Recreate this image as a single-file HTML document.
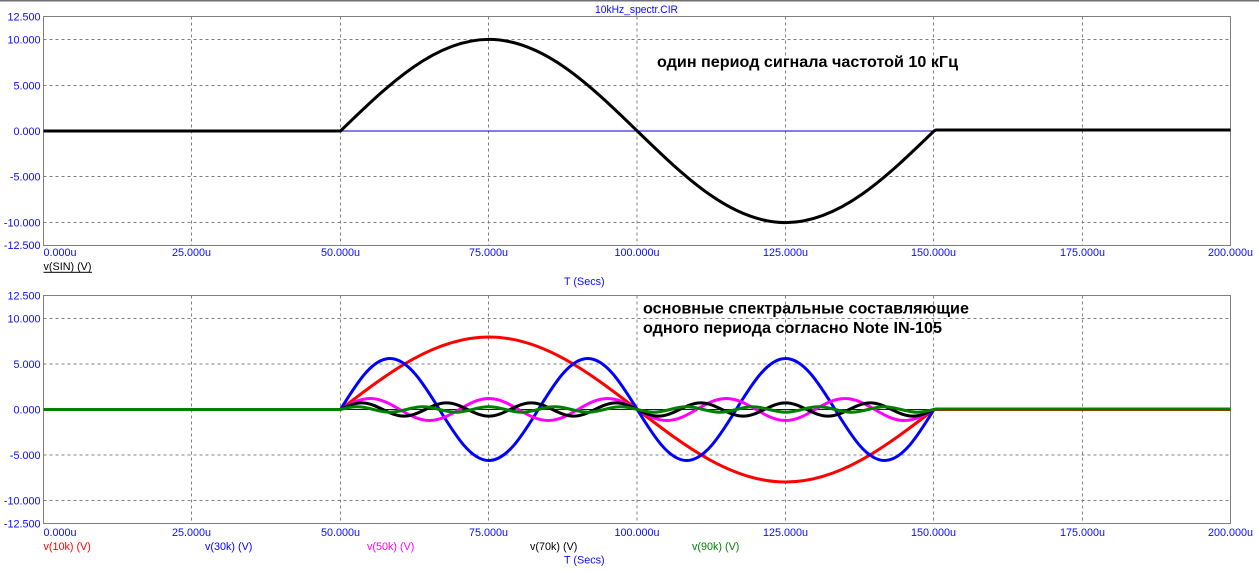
<!DOCTYPE html>
<html>
<head>
<meta charset="utf-8">
<style>
  html, body { margin:0; padding:0; background:#ffffff; }
  svg { display:block; }
  .tick { font-family:"Liberation Sans", Arial, sans-serif; font-size:10.8px; fill:#0a0aff; }
  .lbl { font-family:"Liberation Sans", Arial, sans-serif; font-size:10.8px; }
  .ann { font-family:"Liberation Sans", "DejaVu Sans", sans-serif; font-size:16px; font-weight:bold; fill:#000; }
  .grid { stroke:#808080; stroke-width:1; stroke-dasharray:3 3; fill:none; }
  .frame { stroke:#808080; stroke-width:1; fill:none; }
  .curve { fill:none; stroke-width:3; stroke-linejoin:round; stroke-linecap:butt; }
</style>
</head>
<body>
<svg width="1259" height="571" viewBox="0 0 1259 571" xmlns="http://www.w3.org/2000/svg">
  <rect x="0" y="0" width="1259" height="571" fill="#ffffff"/>
  <rect x="0" y="0" width="1259" height="1.5" fill="#707070"/>

  <!-- Title -->
  <text class="lbl" x="595" y="13" fill="#0a0aff" textLength="83" lengthAdjust="spacingAndGlyphs">10kHz_spectr.CIR</text>

  <!-- ================= TOP PLOT ================= -->
  <g>
    <!-- horizontal grid -->
    <line class="grid" x1="43.5" y1="39.5" x2="1230.5" y2="39.5"/>
    <line class="grid" x1="43.5" y1="85.5" x2="1230.5" y2="85.5"/>
    <line class="grid" x1="43.5" y1="131" x2="1230.5" y2="131"/>
    <line class="grid" x1="43.5" y1="176.5" x2="1230.5" y2="176.5"/>
    <line class="grid" x1="43.5" y1="222.5" x2="1230.5" y2="222.5"/>
    <!-- vertical grid -->
    <line class="grid" x1="191.5" y1="16.5" x2="191.5" y2="245.5"/>
    <line class="grid" x1="340.5" y1="16.5" x2="340.5" y2="245.5"/>
    <line class="grid" x1="488.5" y1="16.5" x2="488.5" y2="245.5"/>
    <line class="grid" x1="637" y1="16.5" x2="637" y2="245.5"/>
    <line class="grid" x1="785.5" y1="16.5" x2="785.5" y2="245.5"/>
    <line class="grid" x1="933.5" y1="16.5" x2="933.5" y2="245.5"/>
    <line class="grid" x1="1082.5" y1="16.5" x2="1082.5" y2="245.5"/>
    <rect class="frame" x="43.5" y="16.5" width="1187" height="229"/>

    <!-- zero reference -->
    <line x1="340.5" y1="131" x2="934" y2="131" stroke="#0000c8" stroke-width="1"/>

    <!-- v(SIN) -->
    <path class="curve" stroke="#000000"
      d="M43.5,131 H340.5 c48.39,-46.93 94.68,-91.6 148.375,-91.6 c53.70,0 99.99,44.67 148.375,91.6 c48.39,46.93 94.68,91.6 148.375,91.6 c53.70,0 99.99,-44.67 148.375,-91.6 L936,130 H1230.5"/>

    <!-- y tick labels -->
    <text class="tick" x="40.5" y="20.5" text-anchor="end">12.500</text>
    <text class="tick" x="40.5" y="43.5" text-anchor="end">10.000</text>
    <text class="tick" x="40.5" y="89.5" text-anchor="end">5.000</text>
    <text class="tick" x="40.5" y="135" text-anchor="end">0.000</text>
    <text class="tick" x="40.5" y="180.5" text-anchor="end">-5.000</text>
    <text class="tick" x="40.5" y="226.5" text-anchor="end">-10.000</text>
    <text class="tick" x="40.5" y="249" text-anchor="end">-12.500</text>

    <!-- x tick labels -->
    <text class="tick" x="43.5" y="256">0.000u</text>
    <text class="tick" x="191.5" y="256" text-anchor="middle">25.000u</text>
    <text class="tick" x="340.5" y="256" text-anchor="middle">50.000u</text>
    <text class="tick" x="488.5" y="256" text-anchor="middle">75.000u</text>
    <text class="tick" x="637" y="256" text-anchor="middle">100.000u</text>
    <text class="tick" x="785.5" y="256" text-anchor="middle">125.000u</text>
    <text class="tick" x="933.5" y="256" text-anchor="middle">150.000u</text>
    <text class="tick" x="1082.5" y="256" text-anchor="middle">175.000u</text>
    <text class="tick" x="1230.5" y="256" text-anchor="middle">200.000u</text>

    <text class="lbl" x="43.5" y="270" fill="#000">v(SIN) (V)</text>
    <rect x="43.5" y="271.8" width="48.5" height="1" fill="#000"/>
    <text class="lbl" x="564" y="285" fill="#0a0aff">T (Secs)</text>

    <text class="ann" x="657" y="67" textLength="301" lengthAdjust="spacingAndGlyphs">один период сигнала частотой 10 кГц</text>
  </g>

  <!-- ================= BOTTOM PLOT ================= -->
  <g>
    <line class="grid" x1="43.5" y1="318.5" x2="1230.5" y2="318.5"/>
    <line class="grid" x1="43.5" y1="364" x2="1230.5" y2="364"/>
    <line class="grid" x1="43.5" y1="409.5" x2="1230.5" y2="409.5"/>
    <line class="grid" x1="43.5" y1="455" x2="1230.5" y2="455"/>
    <line class="grid" x1="43.5" y1="500.5" x2="1230.5" y2="500.5"/>
    <line class="grid" x1="191.5" y1="295.5" x2="191.5" y2="523.5"/>
    <line class="grid" x1="340.5" y1="295.5" x2="340.5" y2="523.5"/>
    <line class="grid" x1="488.5" y1="295.5" x2="488.5" y2="523.5"/>
    <line class="grid" x1="637" y1="295.5" x2="637" y2="523.5"/>
    <line class="grid" x1="785.5" y1="295.5" x2="785.5" y2="523.5"/>
    <line class="grid" x1="933.5" y1="295.5" x2="933.5" y2="523.5"/>
    <line class="grid" x1="1082.5" y1="295.5" x2="1082.5" y2="523.5"/>
    <rect class="frame" x="43.5" y="295.5" width="1187" height="228"/>

    <line x1="340.5" y1="409.5" x2="934" y2="409.5" stroke="#0000c8" stroke-width="1"/>

    <!-- v(10k) red -->
    <path class="curve" stroke="#ff0000"
      d="M43.5,409.5 H340.5 c48.39,-37.14 94.68,-72.5 148.375,-72.5 c53.70,0 99.99,35.36 148.375,72.5 c48.39,37.14 94.68,72.5 148.375,72.5 c53.70,0 99.99,-35.36 148.375,-72.5 H1230.5"/>

    <!-- v(30k) blue -->
    <path class="curve" stroke="#0000ff"
      d="M340.5,409.5
      c16.13,-26.13 31.56,-51 49.458,-51 c17.90,0 33.33,24.87 49.458,51 c16.13,26.13 31.56,51 49.458,51 c17.90,0 33.33,-24.87 49.458,-51
      c16.13,-26.13 31.56,-51 49.458,-51 c17.90,0 33.33,24.87 49.458,51 c16.13,26.13 31.56,51 49.458,51 c17.90,0 33.33,-24.87 49.458,-51
      c16.13,-26.13 31.56,-51 49.458,-51 c17.90,0 33.33,24.87 49.458,51 c16.13,26.13 31.56,51 49.458,51 c17.90,0 33.33,-24.87 49.458,-51"/>

    <!-- v(50k) magenta -->
    <path class="curve" stroke="#ff00ff"
      d="M340.5,409.5
      c9.677,-5.635 18.936,-11 29.675,-11 c10.739,0 19.998,5.365 29.675,11 c9.677,5.635 18.936,11 29.675,11 c10.739,0 19.998,-5.365 29.675,-11
      c9.677,-5.635 18.936,-11 29.675,-11 c10.739,0 19.998,5.365 29.675,11 c9.677,5.635 18.936,11 29.675,11 c10.739,0 19.998,-5.365 29.675,-11
      c9.677,-5.635 18.936,-11 29.675,-11 c10.739,0 19.998,5.365 29.675,11 c9.677,5.635 18.936,11 29.675,11 c10.739,0 19.998,-5.365 29.675,-11
      c9.677,-5.635 18.936,-11 29.675,-11 c10.739,0 19.998,5.365 29.675,11 c9.677,5.635 18.936,11 29.675,11 c10.739,0 19.998,-5.365 29.675,-11
      c9.677,-5.635 18.936,-11 29.675,-11 c10.739,0 19.998,5.365 29.675,11 c9.677,5.635 18.936,11 29.675,11 c10.739,0 19.998,-5.365 29.675,-11"/>

    <!-- v(70k) black -->
    <path class="curve" stroke="#000000"
      d="M340.5,409.5
      c6.912,-3.381 13.525,-6.6 21.196,-6.6 c7.671,0 14.284,3.219 21.196,6.6 c6.912,3.381 13.525,6.6 21.196,6.6 c7.671,0 14.284,-3.219 21.196,-6.6
      c6.912,-3.381 13.525,-6.6 21.196,-6.6 c7.671,0 14.284,3.219 21.196,6.6 c6.912,3.381 13.525,6.6 21.196,6.6 c7.671,0 14.284,-3.219 21.196,-6.6
      c6.912,-3.381 13.525,-6.6 21.196,-6.6 c7.671,0 14.284,3.219 21.196,6.6 c6.912,3.381 13.525,6.6 21.196,6.6 c7.671,0 14.284,-3.219 21.196,-6.6
      c6.912,-3.381 13.525,-6.6 21.196,-6.6 c7.671,0 14.284,3.219 21.196,6.6 c6.912,3.381 13.525,6.6 21.196,6.6 c7.671,0 14.284,-3.219 21.196,-6.6
      c6.912,-3.381 13.525,-6.6 21.196,-6.6 c7.671,0 14.284,3.219 21.196,6.6 c6.912,3.381 13.525,6.6 21.196,6.6 c7.671,0 14.284,-3.219 21.196,-6.6
      c6.912,-3.381 13.525,-6.6 21.196,-6.6 c7.671,0 14.284,3.219 21.196,6.6 c6.912,3.381 13.525,6.6 21.196,6.6 c7.671,0 14.284,-3.219 21.196,-6.6
      c6.912,-3.381 13.525,-6.6 21.196,-6.6 c7.671,0 14.284,3.219 21.196,6.6 c6.912,3.381 13.525,6.6 21.196,6.6 c7.671,0 14.284,-3.219 21.196,-6.6"/>

    <!-- v(90k) green -->
    <path class="curve" stroke="#008000"
      d="M43.5,409.5 H340.5
      c5.376,-1.383 10.520,-2.7 16.486,-2.7 c5.966,0 11.110,1.317 16.486,2.7 c5.376,1.383 10.520,2.7 16.486,2.7 c5.966,0 11.110,-1.317 16.486,-2.7
      c5.376,-1.383 10.520,-2.7 16.486,-2.7 c5.966,0 11.110,1.317 16.486,2.7 c5.376,1.383 10.520,2.7 16.486,2.7 c5.966,0 11.110,-1.317 16.486,-2.7
      c5.376,-1.383 10.520,-2.7 16.486,-2.7 c5.966,0 11.110,1.317 16.486,2.7 c5.376,1.383 10.520,2.7 16.486,2.7 c5.966,0 11.110,-1.317 16.486,-2.7
      c5.376,-1.383 10.520,-2.7 16.486,-2.7 c5.966,0 11.110,1.317 16.486,2.7 c5.376,1.383 10.520,2.7 16.486,2.7 c5.966,0 11.110,-1.317 16.486,-2.7
      c5.376,-1.383 10.520,-2.7 16.486,-2.7 c5.966,0 11.110,1.317 16.486,2.7 c5.376,1.383 10.520,2.7 16.486,2.7 c5.966,0 11.110,-1.317 16.486,-2.7
      c5.376,-1.383 10.520,-2.7 16.486,-2.7 c5.966,0 11.110,1.317 16.486,2.7 c5.376,1.383 10.520,2.7 16.486,2.7 c5.966,0 11.110,-1.317 16.486,-2.7
      c5.376,-1.383 10.520,-2.7 16.486,-2.7 c5.966,0 11.110,1.317 16.486,2.7 c5.376,1.383 10.520,2.7 16.486,2.7 c5.966,0 11.110,-1.317 16.486,-2.7
      c5.376,-1.383 10.520,-2.7 16.486,-2.7 c5.966,0 11.110,1.317 16.486,2.7 c5.376,1.383 10.520,2.7 16.486,2.7 c5.966,0 11.110,-1.317 16.486,-2.7
      c5.376,-1.383 10.520,-2.7 16.486,-2.7 c5.966,0 11.110,1.317 16.486,2.7 c5.376,1.383 10.520,2.7 16.486,2.7 c5.966,0 11.110,-1.317 16.486,-2.7
      L936,409 H1230.5"/>

    <!-- y tick labels -->
    <text class="tick" x="40.5" y="299.5" text-anchor="end">12.500</text>
    <text class="tick" x="40.5" y="322.5" text-anchor="end">10.000</text>
    <text class="tick" x="40.5" y="368" text-anchor="end">5.000</text>
    <text class="tick" x="40.5" y="413.5" text-anchor="end">0.000</text>
    <text class="tick" x="40.5" y="459" text-anchor="end">-5.000</text>
    <text class="tick" x="40.5" y="504.5" text-anchor="end">-10.000</text>
    <text class="tick" x="40.5" y="527.5" text-anchor="end">-12.500</text>

    <!-- x tick labels -->
    <text class="tick" x="43.5" y="536">0.000u</text>
    <text class="tick" x="191.5" y="536" text-anchor="middle">25.000u</text>
    <text class="tick" x="340.5" y="536" text-anchor="middle">50.000u</text>
    <text class="tick" x="488.5" y="536" text-anchor="middle">75.000u</text>
    <text class="tick" x="637" y="536" text-anchor="middle">100.000u</text>
    <text class="tick" x="785.5" y="536" text-anchor="middle">125.000u</text>
    <text class="tick" x="933.5" y="536" text-anchor="middle">150.000u</text>
    <text class="tick" x="1082.5" y="536" text-anchor="middle">175.000u</text>
    <text class="tick" x="1230.5" y="536" text-anchor="middle">200.000u</text>

    <!-- legend -->
    <text class="lbl" x="43.5" y="550" fill="#ff0000">v(10k) (V)</text>
    <text class="lbl" x="205" y="550" fill="#0000ff">v(30k) (V)</text>
    <text class="lbl" x="367" y="550" fill="#ff00ff">v(50k) (V)</text>
    <text class="lbl" x="530" y="550" fill="#000000">v(70k) (V)</text>
    <text class="lbl" x="692" y="550" fill="#008000">v(90k) (V)</text>
    <text class="lbl" x="564" y="563.5" fill="#0a0aff">T (Secs)</text>

    <text class="ann" x="643" y="313.5" textLength="326" lengthAdjust="spacingAndGlyphs">основные спектральные составляющие</text>
    <text class="ann" x="643" y="333" textLength="299" lengthAdjust="spacingAndGlyphs">одного периода согласно Note IN-105</text>
  </g>
</svg>
</body>
</html>
